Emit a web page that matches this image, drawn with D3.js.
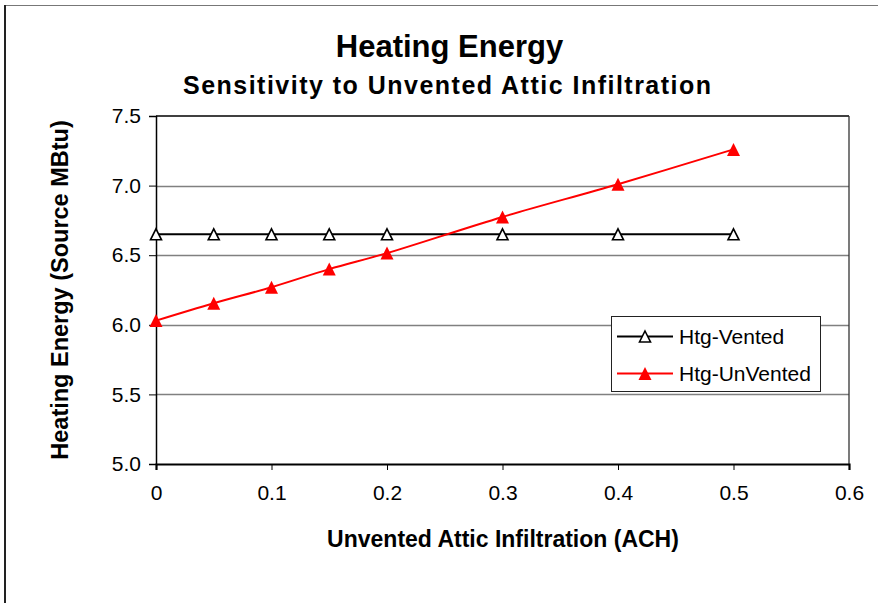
<!DOCTYPE html>
<html><head><meta charset="utf-8">
<script src="https://cdn.jsdelivr.net/npm/d3@7"></script>
<style>
html,body{margin:0;padding:0;background:#fff;}
svg{display:block;font-family:"Liberation Sans",Arial,sans-serif;}
</style></head>
<body><svg id="c" width="878" height="603"></svg>
<script>
const xValues = [0, 0.05, 0.1, 0.15, 0.2, 0.3, 0.4, 0.5];
const vented = [6.65, 6.65, 6.65, 6.65, 6.65, 6.65, 6.65, 6.65];
const unvented = [6.03, 6.155, 6.27, 6.40, 6.515, 6.775, 7.01, 7.26];
const xTicks = [0, 0.1, 0.2, 0.3, 0.4, 0.5, 0.6];
const yTicks = [5.0, 5.5, 6.0, 6.5, 7.0, 7.5];
const seriesNames = ["Htg-Vented", "Htg-UnVented"];
const titleText = "Heating Energy";
const subtitleText = "Sensitivity to Unvented Attic Infiltration";
const xTitle = "Unvented Attic Infiltration (ACH)";
const yTitle = "Heating Energy (Source MBtu)";

const svg = d3.select("#c");
const L = 156, R = 849, T = 116, B = 464;
const x = d3.scaleLinear().domain([0, 0.6]).range([L, R]);
const y = d3.scaleLinear().domain([5.0, 7.5]).range([B, T]);

// outer chart border
svg.append("line").attr("x1",5).attr("x2",878).attr("y1",5.5).attr("y2",5.5).attr("stroke","#777").attr("stroke-width",1);
svg.append("line").attr("x1",5).attr("x2",5).attr("y1",5).attr("y2",603).attr("stroke","#222").attr("stroke-width",2);

// titles
svg.append("text").attr("x",449.5).attr("y",57).attr("text-anchor","middle")
  .attr("font-size",31).attr("font-weight","bold").text(titleText);
svg.append("text").attr("x",447).attr("y",94).attr("text-anchor","middle")
  .attr("font-size",25).attr("font-weight","bold")
  .attr("textLength",528).attr("lengthAdjust","spacing").text(subtitleText);

// gridlines
svg.append("g").selectAll("line").data(yTicks.filter(v => v > 5.0 && v < 7.5)).join("line")
  .attr("x1",L).attr("x2",R).attr("y1",d=>Math.round(y(d))+0.5).attr("y2",d=>Math.round(y(d))+0.5)
  .attr("stroke","#808080").attr("stroke-width",1.3);

// plot area border top and right
svg.append("line").attr("x1",L).attr("x2",R).attr("y1",y(7.5)).attr("y2",y(7.5)).attr("stroke","#000").attr("stroke-width",1.5);
svg.append("line").attr("x1",R).attr("x2",R).attr("y1",T).attr("y2",B).attr("stroke","#333").attr("stroke-width",1.3);

// axes
const yAxis = d3.axisLeft(y).tickValues(yTicks).tickFormat(d3.format(".1f")).tickSize(7).tickPadding(8);
const gy = svg.append("g").attr("transform",`translate(${L},0)`).call(yAxis);
gy.select(".domain").attr("stroke","#000").attr("stroke-width",1.5);
gy.selectAll(".tick line").attr("stroke","#000").attr("stroke-width",1);
gy.selectAll(".tick text").attr("font-size",21).attr("font-family","Liberation Sans, Arial, sans-serif").attr("fill","#000");

const xAxis = d3.axisBottom(x).tickValues(xTicks).tickFormat(d => d === 0 ? "0" : d3.format(".1f")(d)).tickSize(6).tickPadding(15);
const gx = svg.append("g").attr("transform",`translate(0,${B})`).call(xAxis);
gx.select(".domain").attr("stroke","#000").attr("stroke-width",2.2);
gx.selectAll(".tick line").attr("stroke","#000").attr("stroke-width",1);
gx.selectAll(".tick text").attr("font-size",21).attr("font-family","Liberation Sans, Arial, sans-serif").attr("fill","#000");

// axis titles
svg.append("text").attr("x",503).attr("y",547).attr("text-anchor","middle")
  .attr("font-size",23).attr("font-weight","bold").text(xTitle);
svg.append("text").attr("transform","translate(68,290) rotate(-90)").attr("text-anchor","middle")
  .attr("font-size",23.5).attr("font-weight","bold").text(yTitle);

const tri = (w,h) => `M0,${-h/2}L${w/2},${h/2}L${-w/2},${h/2}Z`;

// series
const ventedData = xValues.map((v,i)=>({x:v,y:vented[i]}));
const unventedData = xValues.map((v,i)=>({x:v,y:unvented[i]}));

svg.append("path").datum(ventedData)
  .attr("d", d3.line().x(d=>x(d.x)).y(d=>y(d.y)))
  .attr("fill","none").attr("stroke","#000").attr("stroke-width",2);
svg.append("path").datum(unventedData)
  .attr("d", d3.line().x(d=>x(d.x)).y(d=>y(d.y)).curve(d3.curveCatmullRom.alpha(0.5)))
  .attr("fill","none").attr("stroke","#ff0000").attr("stroke-width",2);

svg.append("g").selectAll("path").data(ventedData).join("path")
  .attr("transform",d=>`translate(${x(d.x)},${y(d.y)})`)
  .attr("d",tri(11,11)).attr("fill","#fff").attr("stroke","#000").attr("stroke-width",1.6);
svg.append("g").selectAll("path").data(unventedData).join("path")
  .attr("transform",d=>`translate(${x(d.x)},${y(d.y)})`)
  .attr("d",tri(13,13)).attr("fill","#ff0000");

// legend
const lg = svg.append("g");
lg.append("rect").attr("x",611.5).attr("y",316.5).attr("width",209).attr("height",75)
  .attr("fill","#fff").attr("stroke","#222").attr("stroke-width",1);
const rows = [
  {name:seriesNames[0], color:"#000", fill:"#fff", stroke:"#000", yy:336.5, w:11},
  {name:seriesNames[1], color:"#ff0000", fill:"#ff0000", stroke:"none", yy:373.5, w:13}
];
rows.forEach(r=>{
  lg.append("line").attr("x1",617).attr("x2",673).attr("y1",r.yy).attr("y2",r.yy).attr("stroke",r.color).attr("stroke-width",2);
  lg.append("path").attr("transform",`translate(645,${r.yy})`).attr("d",tri(r.w,r.w))
    .attr("fill",r.fill).attr("stroke",r.stroke).attr("stroke-width",1.6);
  lg.append("text").attr("x",679).attr("y",r.yy+7.5).attr("font-size",21).text(r.name);
});
</script></body></html>
